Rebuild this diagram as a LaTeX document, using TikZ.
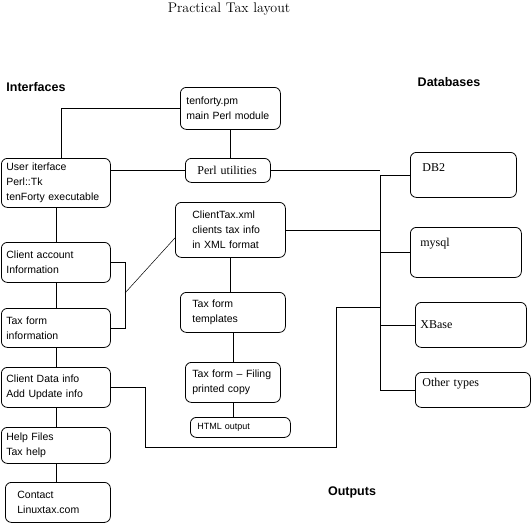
\documentclass[tikz,border=0pt]{standalone}
\usepackage{fontspec}
\setsansfont{Liberation Sans}
\newfontfamily\dbfont{Liberation Serif}
\usepackage{tikz}

\begin{document}
\begin{tikzpicture}[x=1pt,y=-1pt,line width=0.8pt,
    box/.style={draw,rounded corners=6pt,anchor=north west,align=left,inner ysep=2pt,
      font=\sffamily\fontsize{10.5}{15}\selectfont},
    dbbox/.style={box,font=\dbfont\fontsize{12}{14}\selectfont},
    heading/.style={font=\sffamily\bfseries\fontsize{12.5}{14}\selectfont}]
    \useasboundingbox (0,0) rectangle (532,523);
        \node at (229,9) (title) {\fontsize{14}{16}\selectfont Practical Tax layout};
        \node at (36,87) [heading] (ifhead) {Interfaces};
        \node at (449,82) [heading] (dbhead) {Databases};
        \node at (352,492) [heading] (outhead) {Outputs};
        \node at (180,87) [box,minimum height=42pt,inner xsep=6pt,text width=88pt] (pm) {tenforty.pm\\main Perl module};
        \node at (1,158) [box,minimum height=49pt,inner xsep=5pt,text width=99pt] (ui) {User iterface\\Perl::Tk\\tenForty executable};
        \node at (185,158) [dbbox,minimum height=24pt,inner xsep=12pt,text width=61pt] (pu) {Perl utilities};
        \node at (175,202) [box,minimum height=55pt,inner xsep=17pt,text width=76pt] (xml) {ClientTax.xml\\clients tax info\\in XML format};
        \node at (1,242) [box,minimum height=40pt,inner xsep=5pt,text width=99pt] (ca) {Client account\\Information};
        \node at (1,308) [box,minimum height=39pt,inner xsep=5pt,text width=99pt] (tf) {Tax form\\information};
        \node at (180,292) [box,minimum height=40pt,inner xsep=12pt,text width=81pt] (tt) {Tax form\\templates};
        \node at (185,362) [box,minimum height=40pt,inner xsep=7pt,text width=81pt] (fp) {Tax form -- Filing\\printed copy};
        \node at (190,417) [box,minimum height=20pt,inner xsep=7pt,text width=86pt,font=\sffamily\fontsize{9}{11}\selectfont] (html) {HTML output};
        \node at (1,367) [box,minimum height=40pt,inner xsep=5pt,text width=99pt] (cd) {Client Data info\\Add Update info};
        \node at (1,427) [box,minimum height=36pt,inner xsep=5pt,text width=99pt] (hf) {Help Files\\Tax help};
        \node at (5,482) [box,minimum height=40pt,inner xsep=12pt,text width=81pt] (ct) {Contact\\Linuxtax.com};
        \node at (410,152) [dbbox,minimum height=45pt,inner xsep=12pt,text width=82pt,text depth=14pt] (db2) {DB2};
        \node at (410,227) [dbbox,minimum height=50pt,inner xsep=10pt,text width=91pt,text depth=21pt] (mysql) {mysql};
        \node at (415,302) [dbbox,minimum height=45pt,inner xsep=5pt,text width=101pt] (xbase) {XBase};
        \node at (415,372) [dbbox,minimum height=35pt,inner xsep=7pt,text width=101pt,text depth=16pt] (other) {Other types};
        \coordinate (brmid) at (125,293);
        \coordinate (outa) at (145,447);
        \coordinate (outb) at (336,307);
        \draw (db2.west) -- ++(-30,0) coordinate (bus) |- (other.west);
        \draw (mysql.west) -- (mysql.west -| bus) (xbase.west) -- (xbase.west -| bus);
        \draw (pm.west) -| ([xshift=5pt]ui.north) (pm.south) -- (pm.south |- pu.north);
        \draw (pu.west) -- (pu.west -| ui.east) (pu.east) -- (pu.east -| bus);
        \draw (xml.east) -- (xml.east -| bus);
        \draw (ui.south) -- (ca.north) (ca.south) -- (tf.north) (tf.south) -- (cd.north) (cd.south) -- (hf.north) (hf.south) -- (hf.south |- ct.north);
        \draw (ca.east) -- ++(15,0) |- (tf.east);
        \draw[line width=0.5pt] (brmid) -- ([yshift=-8pt]xml.west);
        \draw (xml.south) -- (xml.south |- tt.north) (tt.south) -- (tt.south |- fp.north) (fp.south) -- (fp.south |- html.north);
        \draw (cd.east) -| (outa) -| (outb) -- (outb -| bus);
    \end{tikzpicture}
\end{document}
